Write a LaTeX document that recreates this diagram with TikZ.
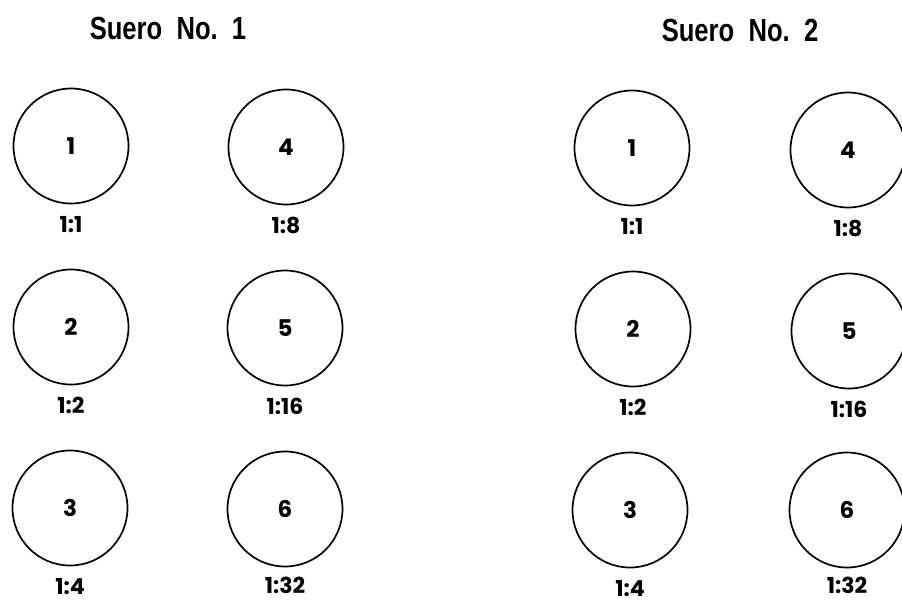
\documentclass[tikz,border=0pt]{standalone}
\usepackage{fontspec}
\setmainfont{Poppins}
\newfontfamily\titlefont{Liberation Sans}
\usetikzlibrary{positioning}

\tikzset{
  well/.style={circle, draw, line width=1.7pt, minimum size=115pt, inner sep=0pt,
    font=\fontsize{23}{23}\selectfont\bfseries},
  ratio/.style={inner sep=0.75pt, font=\fontsize{22}{22}\selectfont\bfseries},
  heading/.style={inner sep=0.75pt, font=\titlefont\bfseries\fontsize{32}{32}\selectfont}
}

\begin{document}
\begin{tikzpicture}[x=1pt,y=1pt,yscale=-1,xscale=1,node distance=11pt]
        \useasboundingbox (0,0) rectangle (902,603);

        % Text Node
        \node[heading] (head1) at (168,28) {\scalebox{0.8}[1]{Suero\ \ No.\ \ 1}};
        % Text Node
        \node[heading] (head2) at (740,30) {\scalebox{0.8}[1]{Suero\ \ No.\ \ 2}};

        %Shape: Circle
        \node[well] (a1) at (71,146) {1};
        \node[well] (a2) at (71,327) {2};
        \node[well] (a3) at (70,508) {3};
        \node[well] (a4) at (286,147) {4};
        \node[well] (a5) at (285,328) {5};
        \node[well] (a6) at (285,509) {6};

        %Shape: Circle
        \node[well] (b1) at (632,148) {1};
        \node[well] (b2) at (633,329) {2};
        \node[well] (b3) at (630,510) {3};
        \node[well] (b4) at (848,150) {4};
        \node[well] (b5) at (849,331) {5};
        \node[well] (b6) at (847,510) {6};

        % Text Node
        \node[ratio, below=of a1] (ra1) {1:1};
        \node[ratio, below=of a2] (ra2) {1:2};
        \node[ratio, below=of a3] (ra3) {1:4};
        \node[ratio, below=of a4] (ra4) {1:8};
        \node[ratio, below=of a5] (ra5) {1:16};
        \node[ratio, below=9pt of a6] (ra6) {1:32};
        % Text Node
        \node[ratio, below=of b1] (rb1) {1:1};
        \node[ratio, below=of b2] (rb2) {1:2};
        \node[ratio, below=of b3] (rb3) {1:4};
        \node[ratio, below=of b4] (rb4) {1:8};
        \node[ratio, below=of b5] (rb5) {1:16};
        \node[ratio, below=8pt of b6] (rb6) {1:32};

\end{tikzpicture}
\end{document}
